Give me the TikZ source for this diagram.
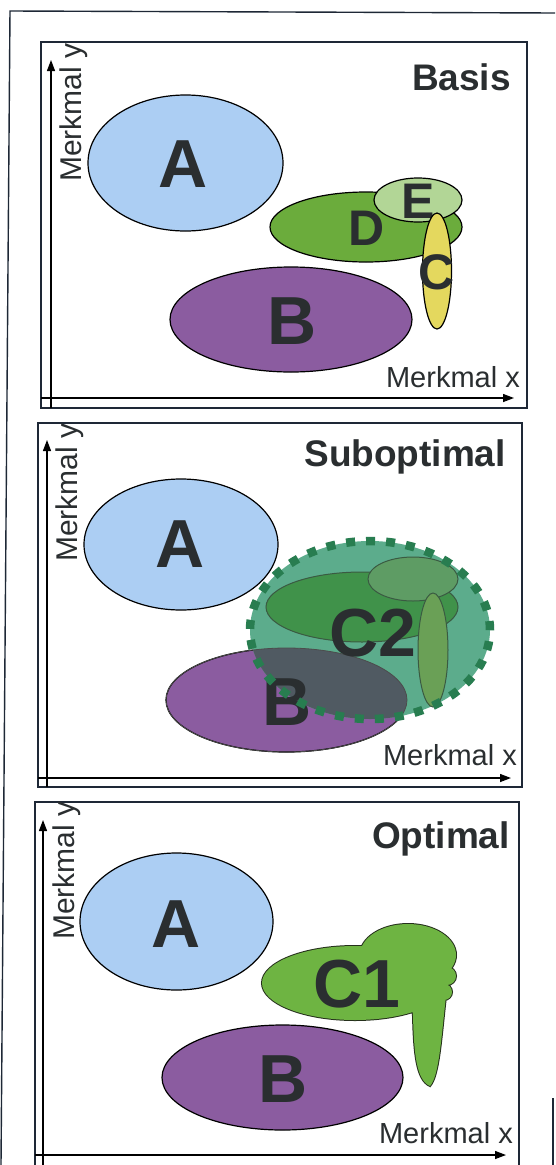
\documentclass[tikz,border=0pt]{standalone}
\usepackage{fontspec}
\setmainfont{Liberation Sans}
\usetikzlibrary{arrows.meta}

\definecolor{frame}{HTML}{1E2836}
\definecolor{ink}{HTML}{2A2E30}
\definecolor{clsA}{HTML}{ACCEF3}
\definecolor{clsB}{HTML}{8B5CA0}
\definecolor{clsD}{HTML}{6BAC3C}
\definecolor{clsE}{HTML}{B2D696}
\definecolor{clsC}{HTML}{E4D85E}
\definecolor{regionC}{HTML}{5CAC8C}
\definecolor{regionEdge}{HTML}{287D50}
\definecolor{darkD}{HTML}{40924A}
\definecolor{darkE}{HTML}{5E9C64}
\definecolor{darkC}{HTML}{6AA056}
\definecolor{mixBC}{HTML}{505A62}
\definecolor{innerEdge}{HTML}{3A5A42}
\definecolor{merged}{HTML}{6EB442}
\definecolor{mergedEdge}{HTML}{25301C}

\tikzset{
  panel/.style={draw=frame, line width=1.4pt},
  axis/.style={draw=black, line width=1.3pt, -{Triangle[length=11pt,width=8pt]}},
  cls/.style={draw=black, line width=1.2pt},
  inner/.style={draw=innerEdge, line width=1pt},
  bigletter/.style={font=\fontsize{68}{68}\selectfont\bfseries, text=ink, inner sep=0pt},
  midletter/.style={font=\fontsize{50}{50}\selectfont\bfseries, text=ink, inner sep=0pt},
  title/.style={font=\fontsize{37}{37}\selectfont\bfseries, text=ink, inner sep=0pt, anchor=base east},
  xlab/.style={font=\fontsize{29}{29}\selectfont, text=ink, inner sep=0pt, anchor=base east},
  ylab/.style={font=\fontsize{30}{30}\selectfont, text=ink, inner sep=0pt, rotate=90, anchor=base west},
}

\begin{document}
\begin{tikzpicture}[x=1pt, y=-1pt]
\useasboundingbox[fill=white] (0,0) rectangle (555,1165);

% outer frame
\draw[frame, line width=1.4pt] (555,13) -- (10,11) -- (1,1165);
\draw[frame, line width=1.2pt] (553,1098) -- (553,1165);

% ---------------- Basis ----------------
\draw[panel] (41,42) rectangle (527,408);
\draw[axis] (51,408) -- (51,60);
\draw[axis] (41,398) -- (514,398);
\node[title] (t1) at (511,90) {Basis};
\node[xlab] (x1) at (520,387) {Merkmal x};
\node[ylab] (y1) at (81,182) {Merkmal y};

\path[cls, fill=clsA] (185.5,163) ellipse [x radius=97.5pt, y radius=68pt];
\path[cls, fill=clsB] (291,319.5) ellipse [x radius=121pt, y radius=52.5pt];
\path[cls, fill=clsD] (366,227) ellipse [x radius=96pt, y radius=35pt];
\path[cls, fill=clsE] (418,200) ellipse [x radius=44pt, y radius=22pt];
\node[midletter] (d1) at (367,228) {D};
\node[midletter] (e1) at (418,201) {E};
\path[cls, fill=clsC] (437,271) ellipse [x radius=14.5pt, y radius=58pt];
\node[bigletter] (a1) at (183,164) {A};
\node[bigletter] (b1) at (292,321.5) {B};
\node[midletter] (c1) at (437,272) {C};

% ---------------- Suboptimal ----------------
\draw[panel] (38,423) rectangle (522,787);
\draw[axis] (47,787) -- (47,440);
\draw[axis] (38,778) -- (511,778);
\node[title] (t2) at (506,466) {Suboptimal};
\node[xlab] (x2) at (517,765) {Merkmal x};
\node[ylab] (y2) at (77,562) {Merkmal y};

\path[cls, fill=clsA] (181,544.5) ellipse [x radius=97pt, y radius=65.5pt];
\node[bigletter] (a2) at (180,544) {A};
\path[cls, fill=clsB] (286.5,700) ellipse [x radius=120.5pt, y radius=52pt];
% merged region C2
\fill[regionC] (370,630) ellipse [x radius=120pt, y radius=89pt];
\begin{scope}
  \clip (286.5,700) ellipse [x radius=120.5pt, y radius=52pt];
  \fill[mixBC] (370,630) ellipse [x radius=120pt, y radius=89pt];
\end{scope}
\draw[draw=black!70, line width=0.8pt] (286.5,700) ellipse [x radius=120.5pt, y radius=52pt];
\path[inner, fill=darkD] (362,607) ellipse [x radius=96pt, y radius=35pt];
\path[inner, fill=darkE] (413,579) ellipse [x radius=45pt, y radius=22pt];
\path[inner, fill=darkC] (433,650) ellipse [x radius=15pt, y radius=57pt];
\node[bigletter] (b2) at (287,702) {B};
\node[bigletter] (c2) at (373,633) {C2};
\draw[regionEdge, line width=8.5pt, dash pattern=on 9pt off 11pt]
  (370,630) ellipse [x radius=120pt, y radius=89pt];

% ---------------- Optimal ----------------
\draw[panel] (35,802) rectangle (519,1168);
\draw[axis] (43,1168) -- (43,820);
\draw[axis] (35,1155) -- (506,1155);
\node[title] (t3) at (510,848) {Optimal};
\node[xlab] (x3) at (513,1143) {Merkmal x};
\node[ylab] (y3) at (74,940) {Merkmal y};

\path[cls, fill=clsA] (176.5,921.5) ellipse [x radius=96.5pt, y radius=68.5pt];
\node[bigletter] (a3) at (176,924) {A};
\path[cls, fill=clsB] (282.5,1077.5) ellipse [x radius=120.5pt, y radius=52.5pt];
\node[bigletter] (b3) at (283,1079) {B};

% merged class C1: outline pass, then fill pass
\path[draw=mergedEdge, line width=2pt, fill=mergedEdge]
  (355,983) ellipse [x radius=93pt, y radius=37pt]
  (408,955) ellipse [x radius=48pt, y radius=31pt]
  (447,976) circle [radius=9pt]
  (444,992) circle [radius=8pt]
  (411,996) -- (413,1016) .. controls (414,1052) and (416,1080) .. (430,1086)
    .. controls (439,1076) and (441,1040) .. (446,996) -- cycle;
\path[fill=merged]
  (355,983) ellipse [x radius=93pt, y radius=37pt]
  (408,955) ellipse [x radius=48pt, y radius=31pt]
  (447,976) circle [radius=9pt]
  (444,992) circle [radius=8pt]
  (411,996) -- (413,1016) .. controls (414,1052) and (416,1080) .. (430,1086)
    .. controls (439,1076) and (441,1040) .. (446,996) -- cycle;
\node[bigletter] (c13) at (357,984) {C1};

\end{tikzpicture}
\end{document}
